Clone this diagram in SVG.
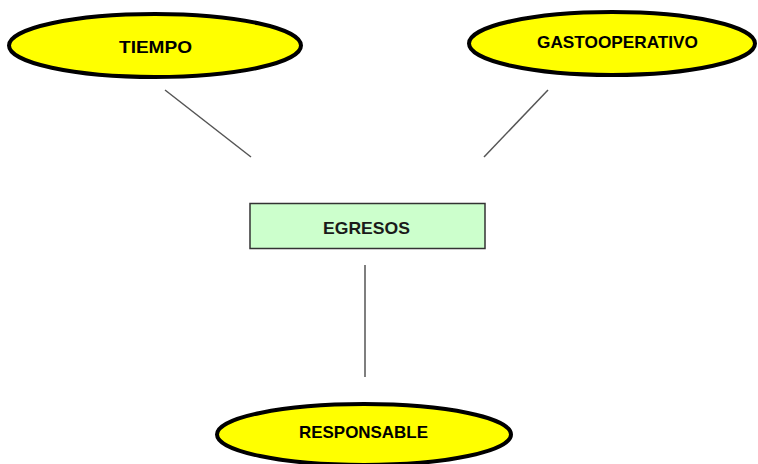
<svg xmlns="http://www.w3.org/2000/svg" width="758" height="464" viewBox="0 0 758 464">
  <style>
    .oval { fill: #ffff00; stroke: #000000; stroke-width: 4; }
    .oval-label { font-family: "Liberation Sans", Arial, sans-serif; font-weight: bold; font-size: 17px; fill: #000000; text-anchor: middle; }
    .box { fill: #ccffcc; stroke: #333333; stroke-width: 1.5; }
    .box-label { font-family: "Liberation Sans", Arial, sans-serif; font-weight: bold; font-size: 17px; fill: #1a1a1a; text-anchor: middle; }
    .link { stroke: #555555; stroke-width: 1.5; fill: none; }
  </style>
  <rect width="758" height="464" fill="#ffffff"/>

  <!-- connectors -->
  <g id="connectors">
    <line class="link" x1="165" y1="90" x2="251" y2="157"/>
    <line class="link" x1="548" y1="90" x2="484" y2="157"/>
    <line class="link" x1="365" y1="265" x2="365" y2="377"/>
  </g>

  <g id="tiempo">
    <ellipse class="oval" cx="155" cy="45.5" rx="146" ry="31.5"/>
    <text class="oval-label" x="155.5" y="53" textLength="73" lengthAdjust="spacingAndGlyphs">TIEMPO</text>
  </g>

  <g id="gastooperativo">
    <ellipse class="oval" cx="612" cy="43.5" rx="143" ry="31.5"/>
    <text class="oval-label" x="617.5" y="48" textLength="161" lengthAdjust="spacingAndGlyphs">GASTOOPERATIVO</text>
  </g>

  <g id="egresos">
    <rect class="box" x="250" y="203.5" width="235" height="45"/>
    <text class="box-label" x="366.5" y="234" textLength="87" lengthAdjust="spacingAndGlyphs">EGRESOS</text>
  </g>

  <g id="responsable">
    <ellipse class="oval" cx="364" cy="434.5" rx="147" ry="30.5"/>
    <text class="oval-label" x="363.5" y="438" textLength="129" lengthAdjust="spacingAndGlyphs">RESPONSABLE</text>
  </g>
</svg>
